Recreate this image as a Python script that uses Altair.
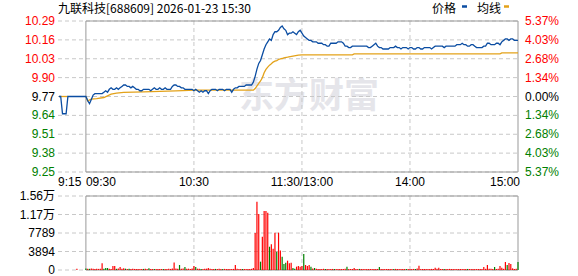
import altair as alt
import pandas as pd

# ---------------- data ----------------
title_text = "九联科技[688609] 2026-01-23 15:30"
legend_names = ["价格", "均线"]
watermark = "东方财富"

price_ticks = [9.2453, 9.3765, 9.5076, 9.6388, 9.77, 9.9012, 10.0324, 10.1635, 10.2947]
price_labels = ["9.25", "9.38", "9.51", "9.64", "9.77", "9.90", "10.03", "10.16", "10.29"]
pct_labels = ["5.37%", "4.03%", "2.68%", "1.34%", "0.00%", "1.34%", "2.68%", "4.03%", "5.37%"]
label_side = ["down", "down", "down", "down", "flat", "up", "up", "up", "up"]

time_ticks_left = [-15.5, 0]
time_labels_left = ["9:15", "09:30"]
time_ticks_mid = [60, 120, 180]
time_labels_mid = ["10:30", "11:30/13:00", "14:00"]
time_ticks_right = [240]
time_labels_right = ["15:00"]
grid_minutes = [60, 120, 180]

pre_minutes = list(range(-15, 0))
pre_price = [9.77, 9.77, 9.65, 9.65, 9.65, 9.77, 9.77, 9.77, 9.77, 9.77,
             9.77, 9.77, 9.77, 9.77, 9.77]

price = [
    9.77, 9.74, 9.72, 9.75, 9.78, 9.79, 9.79, 9.79, 9.79, 9.79,
    9.80, 9.81, 9.80, 9.82, 9.83, 9.82, 9.82, 9.83, 9.82, 9.83,
    9.84, 9.85, 9.85, 9.84, 9.84, 9.83, 9.84, 9.83, 9.82, 9.82,
    9.81, 9.81, 9.82, 9.82, 9.82, 9.82, 9.81, 9.82, 9.83, 9.82,
    9.82, 9.83, 9.82, 9.82, 9.83, 9.82, 9.82, 9.82, 9.84, 9.85,
    9.85, 9.84, 9.84, 9.83, 9.83, 9.82, 9.82, 9.82, 9.82, 9.82,
    9.81, 9.82, 9.81, 9.80, 9.81, 9.80, 9.81, 9.81, 9.79, 9.81,
    9.82, 9.82, 9.82, 9.81, 9.82, 9.82, 9.82, 9.81, 9.82, 9.82,
    9.82, 9.80, 9.82, 9.83, 9.83, 9.84, 9.84, 9.84, 9.84, 9.85,
    9.85, 9.85, 9.85, 9.87, 9.91, 9.96, 10.00, 10.02, 10.06, 10.10,
    10.13, 10.15, 10.17, 10.16, 10.20, 10.22, 10.22, 10.23, 10.25, 10.26,
    10.24, 10.23, 10.20, 10.21, 10.21, 10.22, 10.21, 10.20, 10.22, 10.23,
    10.21, 10.19, 10.18, 10.17, 10.16, 10.16, 10.15, 10.15, 10.15, 10.14,
    10.14, 10.14, 10.13, 10.13, 10.12, 10.12, 10.14, 10.14, 10.14, 10.14,
    10.15, 10.15, 10.15, 10.14, 10.12, 10.12, 10.11, 10.11, 10.12, 10.12,
    10.12, 10.12, 10.12, 10.12, 10.12, 10.12, 10.12, 10.11, 10.11, 10.12,
    10.13, 10.14, 10.12, 10.11, 10.11, 10.10, 10.10, 10.10, 10.10, 10.11,
    10.11, 10.11, 10.12, 10.11, 10.11, 10.10, 10.11, 10.11, 10.11, 10.10,
    10.11, 10.11, 10.10, 10.10, 10.11, 10.11, 10.10, 10.10, 10.11, 10.11,
    10.11, 10.11, 10.10, 10.11, 10.12, 10.12, 10.12, 10.12, 10.12, 10.11,
    10.12, 10.12, 10.12, 10.12, 10.12, 10.12, 10.13, 10.13, 10.13, 10.14,
    10.13, 10.13, 10.12, 10.12, 10.13, 10.13, 10.12, 10.11, 10.11, 10.11,
    10.11, 10.12, 10.12, 10.14, 10.14, 10.13, 10.13, 10.13, 10.14, 10.14,
    10.13, 10.15, 10.16, 10.17, 10.17, 10.16, 10.17, 10.17, 10.16, 10.16,
    10.16,
]

pre_avg_minutes = [-15, -10]
pre_avg_values = [9.77, 9.77]
avg_minutes = [0, 1, 3, 6, 10, 14, 17, 21, 32, 50, 61, 93, 94, 96, 97, 98, 99, 100,
               101, 102, 103, 104, 105, 106, 107, 108, 109, 110, 112, 115, 118, 120,
               148, 149, 230, 231, 240]
avg_values = [9.770, 9.740, 9.752, 9.755, 9.763, 9.786, 9.793, 9.798, 9.802, 9.809,
              9.814, 9.814, 9.825, 9.862, 9.878, 9.900, 9.935, 9.958, 9.974, 9.988,
              9.997, 10.009, 10.016, 10.020, 10.027, 10.032, 10.034, 10.039, 10.043,
              10.050, 10.057, 10.059, 10.059, 10.066, 10.066, 10.073, 10.073]

pre_vol_minutes = [-5]
pre_vol = [250]
pre_vol_dir = ["r"]

vol = [
    310, 280, 250, 300, 280, 220, 250, 230, 260, 1400,
    280, 420, 420, 260, 230, 840, 840, 250, 300, 630,
    250, 350, 280, 230, 260, 210, 250, 220, 200, 230,
    210, 200, 230, 250, 210, 350, 220, 200, 230, 210,
    220, 200, 210, 230, 200, 210, 250, 220, 300, 1600,
    300, 250, 1050, 280, 300, 630, 250, 280, 230, 300,
    840, 630, 280, 250, 230, 210, 250, 280, 420, 250,
    220, 200, 230, 210, 250, 220, 200, 230, 210, 220,
    200, 210, 230, 1050, 250, 220, 200, 210, 230, 220,
    210, 230, 250, 420, 7790, 14380, 11790, 1750, 7000, 12420,
    12420, 12060, 4900, 5400, 4480, 7850, 3850, 7850, 4100, 2800,
    1260, 1540, 1960, 1400, 1540, 420, 250, 700, 840, 700,
    840, 3360, 1050, 840, 1050, 700, 300, 420, 250, 210,
    200, 210, 250, 200, 230, 210, 200, 220, 210, 200,
    210, 230, 200, 220, 250, 700, 230, 210, 200, 420,
    210, 200, 230, 210, 200, 220, 210, 200, 230, 210,
    200, 210, 220, 630, 210, 200, 230, 210, 200, 220,
    210, 200, 230, 210, 200, 220, 210, 200, 230, 210,
    200, 210, 220, 210, 300, 910, 230, 210, 200, 220,
    210, 200, 230, 210, 490, 250, 490, 210, 200, 220,
    210, 200, 230, 210, 200, 220, 210, 200, 230, 210,
    200, 210, 220, 210, 200, 230, 210, 200, 220, 210,
    230, 630, 250, 1050, 280, 250, 230, 630, 210, 250,
    840, 490, 250, 1700, 1050, 1470, 1260, 350, 210, 250,
    1700,
]
vol_dir = list(
    "grgrrrrrrr" "gggrrrrgrr" "rrgrgrrrrr" "rrgrrgrrgr" "rrrgrrrrrr"
    "rrgrrgrrrr" "rgrrgrrrrr" "rrgrrrgrrr" "rrrrrrrgrr" "rrrrrrrgrr"
    "rrgrrrgrrg" "ggrrrggrrr" "rgrrrgrgrr" "rrrgrrrrgr" "rrrrrgrrrr"
    "rrgrrrrrrr" "rrrgrrrrrr" "rgrrrrrrgr" "rrrgrrrrrr" "rrrrrrrrrg"
    "rrrrrrrrrr" "rrgrrrrrrr" "rrrrrrrgrr" "rrrrgrrrrr" "g"
)

vol_ticks = [0, 3894, 7789, 11683, 15578]
vol_labels = ["0", "3894", "7789", "1.17万", "1.56万"]

# ---------------- styling / layout ----------------
W, H1, GAP, H2 = 460, 151, 24, 74
H = H1 + GAP + H2
FONT = "Liberation Sans, Noto Sans CJK SC, sans-serif"
CJK = "Noto Sans CJK SC, sans-serif"
BLUE = "#0b4da2"
ORANGE = "#e3a21a"
RED = "#ff0000"
GREEN = "#008000"
GRID = "#c8c8c8"
BORDER = "#999999"
side_color = {"up": RED, "down": GREEN, "flat": "#000000"}
dir_color = {"r": RED, "g": GREEN}

xscale = alt.Scale(domain=[-15.5, 240], nice=False, zero=False)


def pscale():
    return alt.Scale(domain=[price_ticks[0], price_ticks[-1]], range=[H1, 0], nice=False, zero=False)


def vscale():
    return alt.Scale(domain=[vol_ticks[0], vol_ticks[-1]], range=[H, H1 + GAP], nice=False, zero=False)


# ---------------- tables ----------------
line_df = pd.DataFrame({"m": pre_minutes + list(range(len(price))),
                        "p": pre_price + price})
avg_df = pd.DataFrame({"m": pre_avg_minutes + avg_minutes,
                       "p": pre_avg_values + avg_values,
                       "seg": ["pre"] * len(pre_avg_minutes) + ["main"] * len(avg_minutes)})
plabel_df = pd.DataFrame({"p": price_ticks, "lab": price_labels, "pct": pct_labels,
                          "col": [side_color[s] for s in label_side]})
vol_df = pd.DataFrame({"m": pre_vol_minutes + list(range(len(vol))),
                       "v": pre_vol + vol,
                       "col": [dir_color[d] for d in pre_vol_dir + vol_dir]})
vlabel_df = pd.DataFrame({"v": vol_ticks, "lab": vol_labels})
gridx_df = pd.DataFrame({"m": grid_minutes})
box_df = pd.DataFrame({"x0": [0], "x1": [240],
                       "p0": [price_ticks[0]], "p1": [price_ticks[-1]],
                       "v0": [vol_ticks[0]], "v1": [vol_ticks[-1]]})

X = lambda f: alt.X(f, scale=xscale, axis=None)
dash = [4, 3]

layers = []

# watermark
layers.append(alt.Chart(pd.DataFrame({"t": [watermark]})).mark_text(
    font=CJK, fontSize=35, fontWeight="bold", color="#e5e5ea", align="center", baseline="middle"
).encode(text="t:N", x=alt.value(251), y=alt.value(76)))

# price grid (horizontal, full width incl. pre-market)
layers.append(alt.Chart(plabel_df).mark_rule(color=GRID, strokeDash=dash, strokeWidth=1).encode(
    y=alt.Y("p:Q", scale=pscale(), axis=None), x=alt.value(0), x2=alt.value(W)))
# price grid (vertical)
layers.append(alt.Chart(gridx_df).mark_rule(color=GRID, strokeDash=dash, strokeWidth=1).encode(
    x=X("m:Q"), y=alt.Y("p0:Q", scale=pscale(), axis=None), y2="p1:Q"
).transform_calculate(p0=str(price_ticks[0]), p1=str(price_ticks[-1])))
# price border
layers.append(alt.Chart(box_df).mark_rect(fillOpacity=0, stroke=BORDER, strokeWidth=1).encode(
    x=X("x0:Q"), x2="x1:Q", y=alt.Y("p0:Q", scale=pscale(), axis=None), y2="p1:Q"))

# avg & price lines
layers.append(alt.Chart(avg_df).mark_line(color=ORANGE, strokeWidth=1.3).encode(
    x=X("m:Q"), y=alt.Y("p:Q", scale=pscale(), axis=None), detail="seg:N"))
layers.append(alt.Chart(line_df).mark_line(color=BLUE, strokeWidth=1.3).encode(
    x=X("m:Q"), y=alt.Y("p:Q", scale=pscale(), axis=None)))

# price axis labels
layers.append(alt.Chart(plabel_df).mark_text(font=FONT, fontSize=12, align="right", baseline="middle").encode(
    y=alt.Y("p:Q", scale=pscale(), axis=None), x=alt.value(-3), text="lab:N",
    color=alt.Color("col:N", scale=None)))
layers.append(alt.Chart(plabel_df).mark_text(font=FONT, fontSize=12, align="left", baseline="middle").encode(
    y=alt.Y("p:Q", scale=pscale(), axis=None), x=alt.value(W + 7), text="pct:N",
    color=alt.Color("col:N", scale=None)))


def tlabels(ticks, labels, align, dx):
    df = pd.DataFrame({"m": ticks, "lab": labels})
    return alt.Chart(df).mark_text(font=FONT, fontSize=12, align=align, baseline="middle", dx=dx,
                                   color="#000000").encode(
        x=X("m:Q"), y=alt.value(H1 + 10), text="lab:N")


layers += [tlabels(time_ticks_left, time_labels_left, "left", 0),
           tlabels(time_ticks_mid, time_labels_mid, "center", 0),
           tlabels(time_ticks_right, time_labels_right, "right", 2)]

# title & legend
layers.append(alt.Chart(pd.DataFrame({"t": [title_text]})).mark_text(
    font=CJK, fontSize=12, align="left", baseline="middle", color="#000000"
).encode(text="t:N", x=alt.value(0), y=alt.value(-12)))
leg_df = pd.DataFrame({"t": legend_names, "c": [BLUE, ORANGE]})
layers.append(alt.Chart(leg_df).mark_text(
    font=CJK, fontSize=12, align="left", baseline="middle", color="#000000"
).encode(text="t:N", x=alt.value(374), y=alt.value(-12)).transform_filter("datum.t == '价格'"))
layers.append(alt.Chart(leg_df).mark_text(
    font=CJK, fontSize=12, align="left", baseline="middle", color="#000000"
).encode(text="t:N", x=alt.value(419), y=alt.value(-12)).transform_filter("datum.t == '均线'"))
layers.append(alt.Chart(leg_df).mark_rule(color=BLUE, strokeWidth=2.5).encode(
    x=alt.value(404), x2=alt.value(409), y=alt.value(-14.5)).transform_filter("datum.t == '价格'"))
layers.append(alt.Chart(leg_df).mark_rule(color=ORANGE, strokeWidth=2.5).encode(
    x=alt.value(446), x2=alt.value(451), y=alt.value(-14.5)).transform_filter("datum.t == '均线'"))

# volume grid
layers.append(alt.Chart(vlabel_df).mark_rule(color=GRID, strokeDash=dash, strokeWidth=1).encode(
    y=alt.Y("v:Q", scale=vscale(), axis=None), x=alt.value(0), x2=alt.value(W)))
layers.append(alt.Chart(gridx_df).mark_rule(color=GRID, strokeDash=dash, strokeWidth=1).encode(
    x=X("m:Q"), y=alt.Y("v0:Q", scale=vscale(), axis=None), y2="v1:Q"
).transform_calculate(v0=str(vol_ticks[0]), v1=str(vol_ticks[-1])))
layers.append(alt.Chart(box_df).mark_rect(fillOpacity=0, stroke=BORDER, strokeWidth=1).encode(
    x=X("x0:Q"), x2="x1:Q", y=alt.Y("v0:Q", scale=vscale(), axis=None), y2="v1:Q"))

# volume bars
layers.append(alt.Chart(vol_df).mark_rule(strokeWidth=1.2).encode(
    x=X("m:Q"), y=alt.Y("v:Q", scale=vscale(), axis=None), y2=alt.datum(0),
    color=alt.Color("col:N", scale=None)))

# volume labels
layers.append(alt.Chart(vlabel_df).mark_text(font=FONT, fontSize=12, align="right", baseline="middle",
                                            color="#000000").encode(
    y=alt.Y("v:Q", scale=vscale(), axis=None), x=alt.value(-3), text="lab:N"))

chart = alt.layer(*layers).resolve_scale(y="independent").properties(
    width=W, height=H,
    autosize=alt.AutoSizeParams(type="none"),
    padding={"left": 58, "top": 21, "right": 60, "bottom": 6},
    background="#ffffff",
).configure_view(stroke=None)

chart.save("out.html", embed_options={"renderer": "svg", "actions": False})
